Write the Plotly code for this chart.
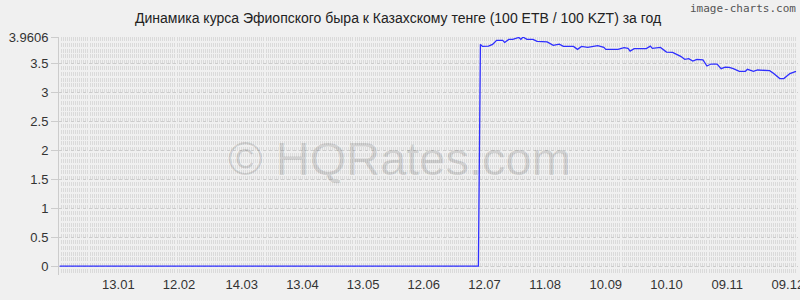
import plotly.graph_objects as go

# ---- data ----
dates = [
    "2023-12-15", "2024-07-09",
    "2024-07-10", "2024-07-11", "2024-07-14", "2024-07-16", "2024-07-18", "2024-07-21",
    "2024-07-22", "2024-07-24", "2024-07-26", "2024-07-29", "2024-07-30", "2024-07-31",
    "2024-08-02", "2024-08-05", "2024-08-07", "2024-08-12", "2024-08-15", "2024-08-18",
    "2024-08-20", "2024-08-25", "2024-08-27", "2024-08-29", "2024-09-01", "2024-09-06",
    "2024-09-09", "2024-09-10", "2024-09-16", "2024-09-19", "2024-09-21", "2024-09-22",
    "2024-09-24", "2024-09-30", "2024-10-02", "2024-10-03", "2024-10-07", "2024-10-10",
    "2024-10-13", "2024-10-17", "2024-10-19", "2024-10-21", "2024-10-23", "2024-10-25",
    "2024-10-28", "2024-10-30", "2024-11-01", "2024-11-04", "2024-11-06", "2024-11-08",
    "2024-11-10", "2024-11-12", "2024-11-15", "2024-11-18", "2024-11-19", "2024-11-22",
    "2024-11-24", "2024-11-30", "2024-12-02", "2024-12-05", "2024-12-07", "2024-12-10",
    "2024-12-13",
]
rates = [
    0.0, 0.0,
    3.833, 3.798, 3.803, 3.833, 3.902, 3.902,
    3.867, 3.919, 3.919, 3.953, 3.919, 3.9606,
    3.919, 3.919, 3.884, 3.876, 3.816, 3.838,
    3.798, 3.798, 3.747, 3.798, 3.781, 3.810,
    3.781, 3.747, 3.747, 3.776, 3.764, 3.717,
    3.759, 3.759, 3.803, 3.764, 3.781, 3.700,
    3.695, 3.626, 3.574, 3.586, 3.545, 3.574,
    3.566, 3.459, 3.493, 3.493, 3.414, 3.441,
    3.436, 3.414, 3.367, 3.367, 3.402, 3.367,
    3.390, 3.379, 3.328, 3.241, 3.241, 3.328,
    3.367,
]
x_tick_dates = ["2024-01-13", "2024-02-12", "2024-03-14", "2024-04-13", "2024-05-13",
                "2024-06-12", "2024-07-12", "2024-08-11", "2024-09-10", "2024-10-10",
                "2024-11-09", "2024-12-09"]
x_tick_labels = ["13.01", "12.02", "14.03", "13.04", "13.05", "12.06", "12.07",
                 "11.08", "10.09", "10.10", "09.11", "09.12"]
y_tick_vals = [0, 0.5, 1, 1.5, 2, 2.5, 3, 3.5, 3.9606]
y_tick_labels = ["0", "0.5", "1", "1.5", "2", "2.5", "3", "3.5", "3.9606"]

title_text = "Динамика курса Эфиопского быра к Казахскому тенге (100 ETB / 100 KZT) за год"

fig = go.Figure()
fig.add_trace(go.Scatter(
    x=dates, y=rates, mode="lines",
    line=dict(color="#2f2fff", width=1.3),
    hoverinfo="skip", showlegend=False,
))

font_family = "Liberation Sans, Arial, sans-serif"

fig.update_layout(
    width=800, height=300,
    margin=dict(l=59, r=2, t=37, b=25, autoexpand=False),
    paper_bgcolor="#f0f0f0",
    plot_bgcolor="#f0f0f0",
    font=dict(family=font_family, size=13, color="#333333"),
    showlegend=False,
    xaxis=dict(
        type="date",
        automargin=False,
        range=["2023-12-14T16:00", "2024-12-14T00:00"],
        tickvals=x_tick_dates, ticktext=x_tick_labels,
        ticklabeloverflow="allow",
        showgrid=False,
        zeroline=False, showline=False,
        ticks="", tickfont=dict(size=13, color="#333333"),
        minor=dict(showgrid=True, dtick=86400000, gridcolor="#dadada",
                   gridwidth=1, griddash="4px,1.8px"),
    ),
    yaxis=dict(
        automargin=False,
        range=[-0.155, 3.9606],
        tickvals=y_tick_vals, ticktext=y_tick_labels,
        showgrid=True, gridcolor="#cccccc", gridwidth=1, griddash="3px,3px",
        zeroline=False,
        showline=True, linecolor="#cccccc", linewidth=1,
        ticks="outside", ticklen=7, tickcolor="#cccccc",
        tickfont=dict(size=13, color="#333333"),
    ),
    annotations=[
        dict(text=title_text, xref="paper", yref="paper", x=0.459, y=1.0, yshift=19,
             xanchor="center", yanchor="middle", showarrow=False,
             font=dict(size=14, color="#222222", family=font_family)),
        dict(text="image-charts.com", xref="paper", yref="paper", x=1.0, y=1.0, yshift=29,
             xanchor="right", yanchor="middle", showarrow=False,
             font=dict(size=11, color="#555555", family="DejaVu Sans Mono, monospace")),
        dict(text="© HQRates.com", xref="paper", yref="paper", x=0.461, y=0.49,
             xanchor="center", yanchor="middle", showarrow=False,
             font=dict(size=47, color="rgba(0,0,0,0.13)", family=font_family)),
    ],
)

fig.write_html("out.html")
